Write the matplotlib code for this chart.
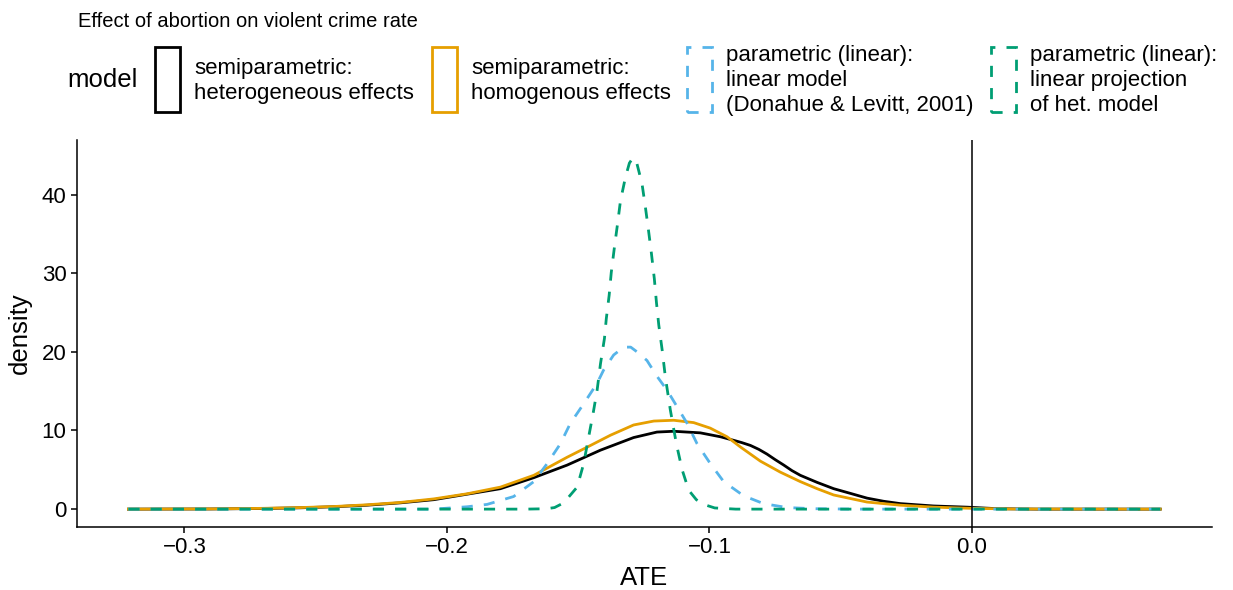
import numpy as np
import matplotlib.pyplot as plt
from matplotlib.patches import Rectangle

plt.rcParams['font.family'] = ['Liberation Sans', 'DejaVu Sans']

# density curves (ATE vs density)
het_x = [-0.3213, -0.290, -0.270, -0.2557, -0.2431, -0.2304, -0.2177, -0.2050, -0.1923,
         -0.1796, -0.1669, -0.1542, -0.1415, -0.1289, -0.1200, -0.1136, -0.1035, -0.0958,
         -0.0908, -0.0876, -0.0844, -0.0812, -0.0781, -0.0750, -0.0717, -0.0686, -0.0654,
         -0.0590, -0.0527, -0.0463, -0.0400, -0.0337, -0.0273, -0.0146, -0.0019, 0.010,
         0.025, 0.0717]
het_y = [0, 0.02, 0.08, 0.17, 0.3, 0.5, 0.8, 1.2, 1.9,
         2.6, 4.0, 5.6, 7.5, 9.1, 9.8, 9.9, 9.7, 9.2,
         8.75, 8.45, 8.1, 7.6, 7.0, 6.3, 5.6, 4.9, 4.3,
         3.4, 2.6, 2.0, 1.4, 1.0, 0.7, 0.4, 0.25, 0.05,
         0, 0]

hom_x = [-0.3213, -0.290, -0.270, -0.2557, -0.2431, -0.2304, -0.2177, -0.2050, -0.1923,
         -0.1796, -0.1669, -0.1542, -0.1453, -0.1377, -0.1289, -0.1212, -0.1136, -0.1060,
         -0.0997, -0.0933, -0.0882, -0.0806, -0.0730, -0.0654, -0.0590, -0.0527, -0.0400,
         -0.0273, -0.0146, 0.000, 0.015, 0.0717]
hom_y = [0, 0.03, 0.1, 0.2, 0.33, 0.55, 0.85, 1.3, 1.95,
         2.8, 4.3, 6.6, 8.1, 9.4, 10.7, 11.2, 11.3, 11.0,
         10.3, 9.2, 7.9, 6.1, 4.7, 3.5, 2.6, 1.8, 0.9,
         0.5, 0.25, 0.1, 0.02, 0]

lin_x = [-0.3213, -0.205, -0.1923, -0.1847, -0.1746, -0.1669, -0.1618, -0.1568, -0.1530,
         -0.1479, -0.1428, -0.1403, -0.1365, -0.1327, -0.1300, -0.1276, -0.1238, -0.1200,
         -0.1161, -0.1123, -0.1085, -0.1047, -0.0997, -0.0946, -0.0870, -0.0794, -0.0705,
         -0.060, -0.045, 0.0717]
lin_y = [0, 0, 0.3, 0.6, 1.6, 3.5, 5.8, 8.3, 10.9,
         13.4, 16.0, 17.7, 19.6, 20.6, 20.6, 20.0, 18.9, 16.9,
         15.1, 13.0, 10.9, 8.3, 5.8, 3.5, 1.7, 0.7, 0.2,
         0.05, 0, 0]

proj_x = [-0.3213, -0.170, -0.1620, -0.1590, -0.1555, -0.1504, -0.1479, -0.1460, -0.1443,
          -0.1428, -0.1415, -0.1400, -0.1393, -0.1382, -0.1374, -0.1362, -0.1350, -0.1339,
          -0.1320, -0.1305, -0.1291, -0.1276, -0.1257, -0.1244, -0.1232, -0.1221, -0.1210,
          -0.1202, -0.1193, -0.1180, -0.1168, -0.1149, -0.1126, -0.1104, -0.1079, -0.1050,
          -0.1022, -0.0980, -0.090, 0.0717]
proj_y = [0, 0, 0.05, 0.2, 0.8, 2.8, 5.8, 9.2, 12.2,
          15.1, 18.5, 21.7, 24.2, 27.2, 30.1, 33.3, 36.3, 39.2,
          42.2, 44.0, 44.7, 43.9, 41.4, 38.4, 35.4, 32.5, 29.3,
          26.3, 23.4, 20.2, 16.8, 12.6, 8.3, 5.0, 2.4, 1.2,
          0.6, 0.15, 0, 0]

labels = ["semiparametric:\nheterogeneous effects",
          "semiparametric:\nhomogenous effects",
          "parametric (linear):\nlinear model\n(Donahue & Levitt, 2001)",
          "parametric (linear):\nlinear projection\nof het. model"]
colors = ["#000000", "#E69F00", "#56B4E9", "#009E73"]
styles = ["solid", "solid", (0, (4, 4)), (0, (4, 4))]

xticks = [-0.3, -0.2, -0.1, 0.0]
xticklabels = ["\u22120.3", "\u22120.2", "\u22120.1", "0.0"]
yticks = [0, 10, 20, 30, 40]

W, H = 1233, 590
fig = plt.figure(figsize=(W / 100, H / 100), dpi=100)


def fx(x):
    return x / W


def fy(y):
    return 1 - y / H


ax = fig.add_axes([fx(76.7), fy(526.7), fx(1212) - fx(76.7), fy(140) - fy(526.7)])

series = [(het_x, het_y), (hom_x, hom_y), (lin_x, lin_y), (proj_x, proj_y)]
for (xs, ys), c, ls in zip(series, colors, styles):
    ax.plot(xs, ys, color=c, lw=2.0, ls=ls, solid_joinstyle='round', dash_capstyle='butt')

ax.axvline(0, color='black', lw=1.1, zorder=5)

ax.set_xlim(-0.3410, 0.0914)
ax.set_ylim(-2.235, 46.94)
ax.set_xticks(xticks)
ax.set_xticklabels(xticklabels)
ax.set_yticks(yticks)
for s in ['top', 'right']:
    ax.spines[s].set_visible(False)
for s in ['left', 'bottom']:
    ax.spines[s].set_linewidth(1.1)
ax.tick_params(length=4.3, width=1.1, labelsize=16, pad=3, colors='black')

fig.text(fx(644), fy(578), "ATE", ha='center', va='center', fontsize=18.5)
fig.text(fx(20), fy(333), "density", ha='center', va='center', rotation=90, fontsize=18.5)

# title and legend
fig.text(fx(78), fy(27), "Effect of abortion on violent crime rate", ha='left',
         va='baseline', fontsize=14.5)
fig.text(fx(67), fy(80), "model", ha='left', va='center', fontsize=18.5)

key_x = [155, 432, 687, 991]
for kx, lab, c, ls in zip(key_x, labels, colors, styles):
    rect = Rectangle((fx(kx), fy(112)), fx(25), fy(47) - fy(112), transform=fig.transFigure,
                     fill=False, edgecolor=c, lw=2.0, ls=ls)
    fig.add_artist(rect)
    fig.text(fx(kx + 39), fy(81), lab, ha='left', va='center', fontsize=16, linespacing=1.25)

fig.savefig("out.png", dpi=100)
